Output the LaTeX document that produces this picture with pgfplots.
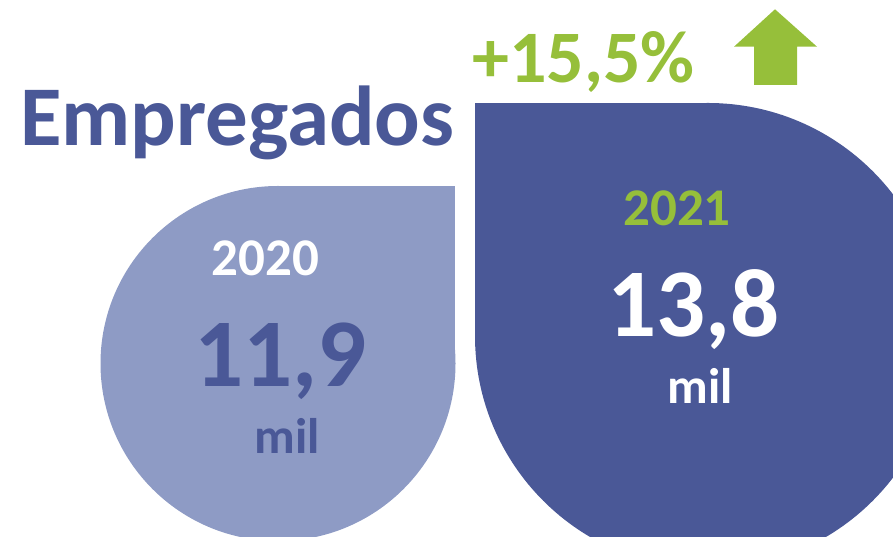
\documentclass[border=0pt]{standalone}
\usepackage{pgfplots}
\pgfplotsset{compat=1.18}
\usepackage{fontspec}
\setmainfont{Carlito}

\definecolor{escuro}{HTML}{4A5897}
\definecolor{claro}{HTML}{8E9BC5}
\definecolor{verde}{HTML}{96BF3A}

\newcommand{\fs}[1]{\fontsize{#1}{#1}\selectfont\bfseries}

\begin{document}
\begin{tikzpicture}
\begin{axis}[
    width=893pt, height=537pt,
    scale only axis,
    xmin=0, xmax=893, ymin=0, ymax=537,
    hide axis,
    clip=true,
]
% 2020: gota clara (circulo + quadrante superior direito)
\fill[claro] (axis cs:278,173.5) circle[radius=177.5pt];
\fill[claro] (axis cs:278,173.5) rectangle (axis cs:455,351);
% 2021: gota escura (quadrante superior esquerdo reto)
\fill[escuro] (axis cs:708,201) circle[radius=233pt];
\fill[escuro] (axis cs:475,201) rectangle (axis cs:708,434.3);

% seta
\fill[verde] (axis cs:775,527.7) -- (axis cs:817,490.3) -- (axis cs:797,490.3)
  -- (axis cs:797,452) -- (axis cs:754,452) -- (axis cs:754,490.3)
  -- (axis cs:734,490.3) -- cycle;

% textos
\node[anchor=base west, inner sep=0, text=escuro, font=\fs{85}] at (axis cs:20,391) {Empregados};
\node[anchor=base west, inner sep=0, text=verde, font=\fs{74}] at (axis cs:472,454.3) {+15,5\%};

\node[anchor=base, inner sep=0, text=white, font=\fs{53}] at (axis cs:265.5,261) {2020};
\node[anchor=base, inner sep=0, text=escuro, font=\fs{97}] at (axis cs:280.5,150.3) {11,9};
\node[anchor=base, inner sep=0, text=escuro, font=\fs{50}] at (axis cs:287.5,83) {mil};

\node[anchor=base, inner sep=0, text=verde, font=\fs{53}] at (axis cs:677,311) {2021};
\node[anchor=base, inner sep=0, text=white, font=\fs{97}] at (axis cs:693.3,200.3) {13,8};
\node[anchor=base, inner sep=0, text=white, font=\fs{50}] at (axis cs:700,133) {mil};
\end{axis}
\pgfresetboundingbox
\path (current axis.south west) rectangle (current axis.north east);
\end{tikzpicture}
\end{document}
